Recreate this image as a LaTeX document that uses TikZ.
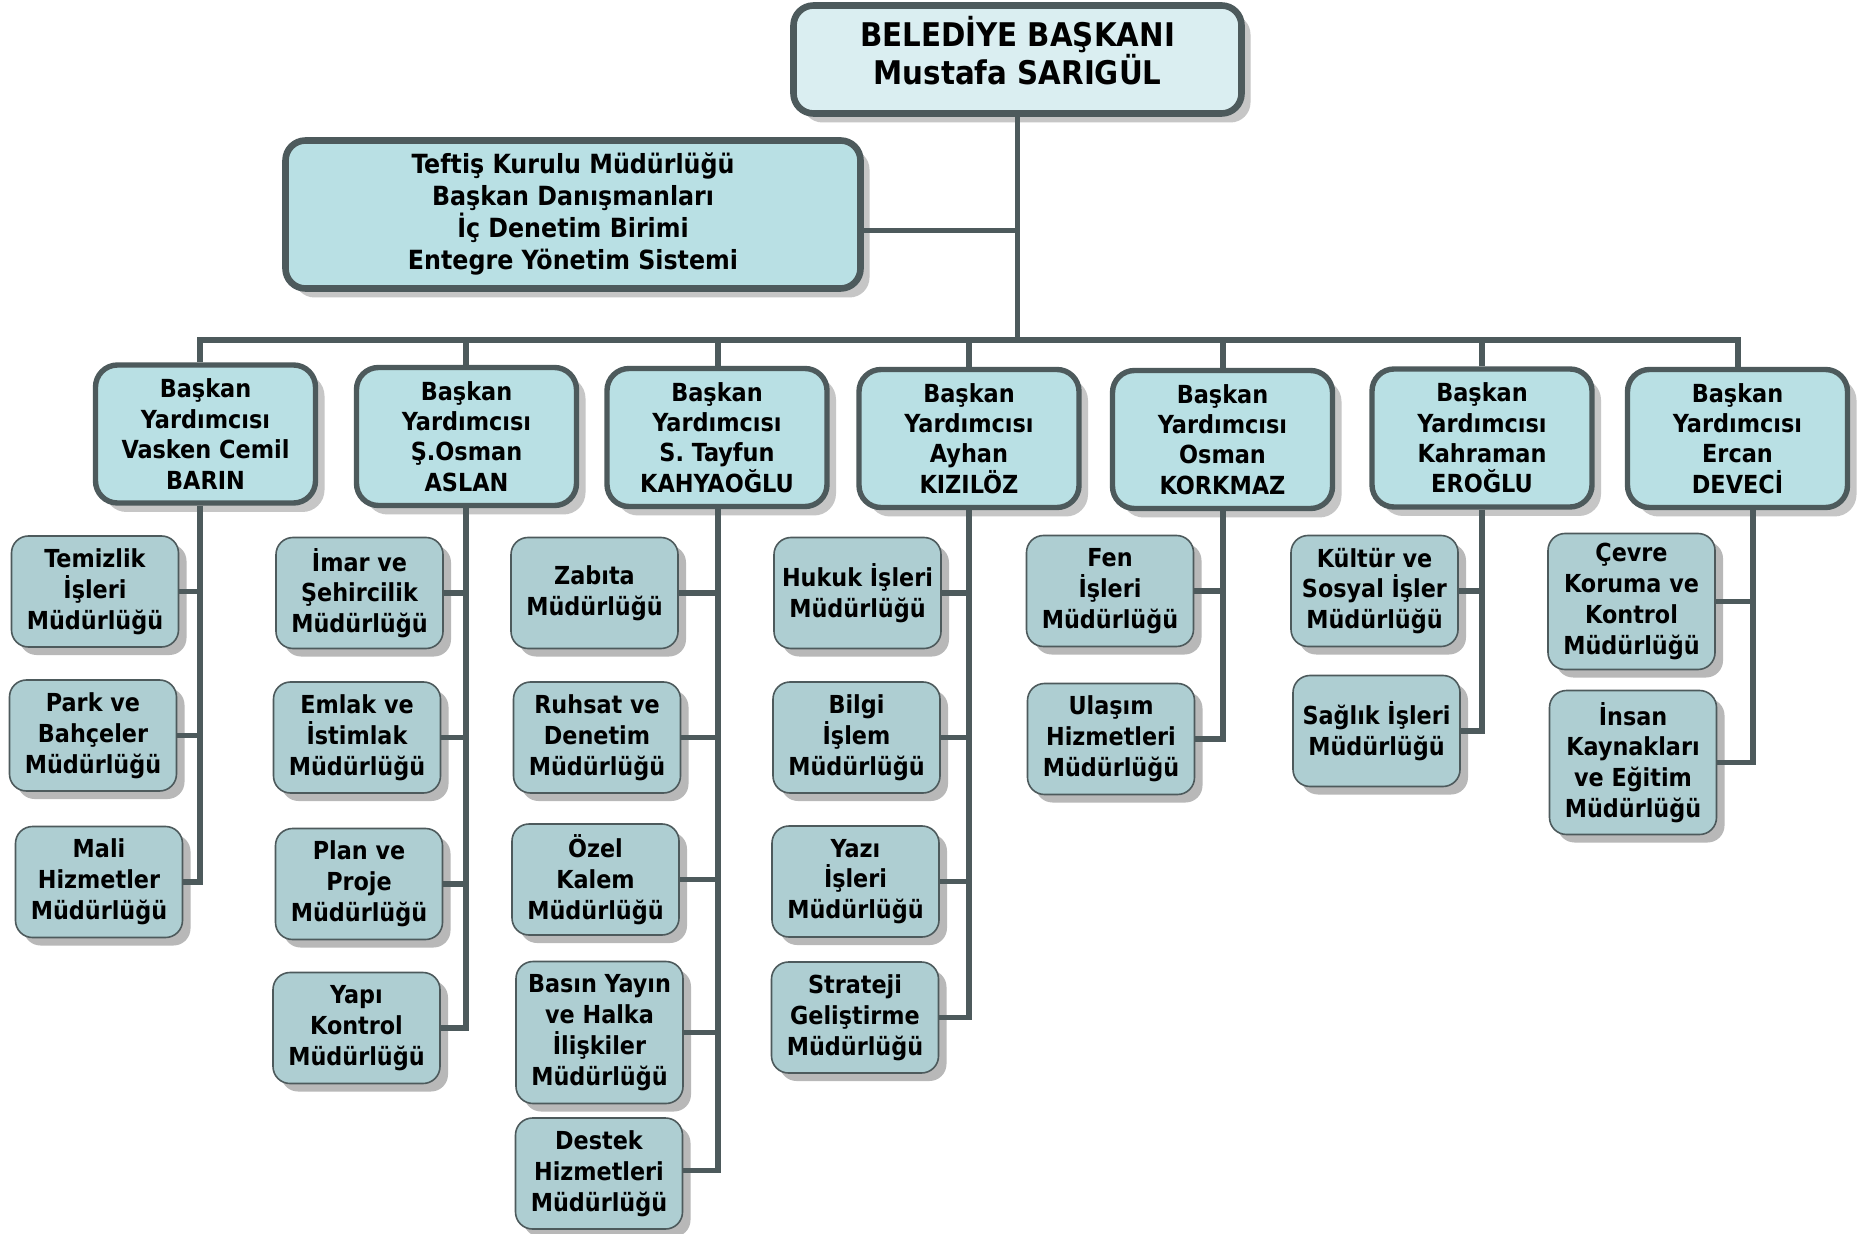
\documentclass[tikz,border=0pt]{standalone}
\usepackage{fontspec}
\setmainfont{DejaVu Sans Condensed}
\usetikzlibrary{shadows}
\definecolor{bord}{HTML}{4D5A5C}
\definecolor{topfill}{HTML}{DAEEF1}
\definecolor{vpfill}{HTML}{B9E0E4}
\definecolor{leaffill}{HTML}{AECED2}
\definecolor{shadowA}{HTML}{C6C6C6}
\definecolor{shadowB}{HTML}{B8B8B8}
\tikzset{
  conn/.style={draw=bord, line width=2.7pt},
  headbox/.style={draw=bord, line width=3.3pt, fill=topfill, rounded corners=10pt,
    align=center, inner sep=0pt, font=\bfseries\fontsize{16.3}{19}\selectfont,
    drop shadow={shadow xshift=4.5pt, shadow yshift=-4.5pt, fill=shadowA, opacity=1}},
  staffbox/.style={draw=bord, line width=3.3pt, fill=vpfill, rounded corners=10pt,
    align=center, inner sep=0pt, font=\bfseries\fontsize{13.2}{16}\selectfont,
    drop shadow={shadow xshift=4.5pt, shadow yshift=-4.5pt, fill=shadowA, opacity=1}},
  vpbox/.style={draw=bord, line width=2.7pt, fill=vpfill, rounded corners=11pt,
    align=center, inner sep=0pt, minimum width=110pt, minimum height=69pt,
    font=\bfseries\fontsize{12.45}{15.2}\selectfont,
    drop shadow={shadow xshift=4.5pt, shadow yshift=-4.5pt, fill=shadowA, opacity=1}},
  leafbox/.style={draw=bord, line width=0.8pt, fill=leaffill, rounded corners=8.5pt,
    align=center, inner sep=0pt, minimum width=83.5pt, minimum height=55.5pt,
    font=\bfseries\fontsize{12.4}{15.4}\selectfont,
    drop shadow={shadow xshift=4pt, shadow yshift=-4pt, fill=shadowB, opacity=1}}
}
\begin{document}
\begin{tikzpicture}[x=0.5pt, y=-0.5pt]
\useasboundingbox (0,0) rectangle (1861,1234);
\fill[white] (0,0) rectangle (1861,1234);

% stems
\coordinate (s1) at (200,340);
\coordinate (s2) at (466,340);
\coordinate (s3) at (718,340);
\coordinate (s4) at (969,340);
\coordinate (s5) at (1223,340);
\coordinate (s6) at (1482,340);
\coordinate (s7) at (1738,340);
\coordinate (s7b) at (1753,340);

% top boxes
\node[headbox, minimum width=224pt, minimum height=54pt, text depth=9pt] (top) at (1017.5,59.5) {BELEDİYE BAŞKANI\\Mustafa SARIGÜL};
\node[staffbox, minimum width=287.5pt, minimum height=74pt] (teftis) at (573,214.5) {Teftiş Kurulu Müdürlüğü\\Başkan Danışmanları\\İç Denetim Birimi\\Entegre Yönetim Sistemi};

% vice presidents
\node[vpbox] (vp1) at (205.5,434) {Başkan\\Yardımcısı\\Vasken Cemil\\BARIN};
\node[vpbox] (vp2) at (466.5,436.5) {Başkan\\Yardımcısı\\Ş.Osman\\ASLAN};
\node[vpbox] (vp3) at (717,437.5) {Başkan\\Yardımcısı\\S. Tayfun\\KAHYAOĞLU};
\node[vpbox] (vp4) at (969,438.5) {Başkan\\Yardımcısı\\Ayhan\\KIZILÖZ};
\node[vpbox] (vp5) at (1222.5,439.5) {Başkan\\Yardımcısı\\Osman\\KORKMAZ};
\node[vpbox] (vp6) at (1482,438) {Başkan\\Yardımcısı\\Kahraman\\EROĞLU};
\node[vpbox] (vp7) at (1737.5,438.5) {Başkan\\Yardımcısı\\Ercan\\DEVECİ};

% column 1
\node[leafbox] (tem) at (95,591.5) {Temizlik\\İşleri\\Müdürlüğü};
\node[leafbox] (park) at (93,735.5) {Park ve\\Bahçeler\\Müdürlüğü};
\node[leafbox] (mali) at (99,882) {Mali\\Hizmetler\\Müdürlüğü};
% column 2
\node[leafbox] (imar) at (359.5,593) {İmar ve\\Şehircilik\\Müdürlüğü};
\node[leafbox] (emlak) at (357,737.5) {Emlak ve\\İstimlak\\Müdürlüğü};
\node[leafbox] (plan) at (359,884) {Plan ve\\Proje\\Müdürlüğü};
\node[leafbox] (yapi) at (356.5,1028) {Yapı\\Kontrol\\Müdürlüğü};
% column 3
\node[leafbox] (zabita) at (594.5,593) {Zabıta\\Müdürlüğü};
\node[leafbox] (ruhsat) at (597,737.5) {Ruhsat ve\\Denetim\\Müdürlüğü};
\node[leafbox] (ozel) at (595.5,879.5) {Özel\\Kalem\\Müdürlüğü};
\node[leafbox, minimum height=71pt] (basin) at (599.5,1032.5) {Basın Yayın\\ve Halka\\İlişkiler\\Müdürlüğü};
\node[leafbox] (destek) at (599,1173.5) {Destek\\Hizmetleri\\Müdürlüğü};
% column 4
\node[leafbox] (hukuk) at (857.5,593) {Hukuk İşleri\\Müdürlüğü};
\node[leafbox] (bilgi) at (856.5,737.5) {Bilgi\\İşlem\\Müdürlüğü};
\node[leafbox] (yazi) at (855.5,881.5) {Yazı\\İşleri\\Müdürlüğü};
\node[leafbox] (strateji) at (855,1017.5) {Strateji\\Geliştirme\\Müdürlüğü};
% column 5
\node[leafbox] (fen) at (1110,591) {Fen\\İşleri\\Müdürlüğü};
\node[leafbox] (ulasim) at (1111,739) {Ulaşım\\Hizmetleri\\Müdürlüğü};
% column 6
\node[leafbox] (kultur) at (1374.5,591) {Kültür ve\\Sosyal İşler\\Müdürlüğü};
\node[leafbox] (saglik) at (1376.5,731) {Sağlık İşleri\\Müdürlüğü};
% column 7
\node[leafbox, minimum height=68pt] (cevre) at (1631.5,601.5) {Çevre\\Koruma ve\\Kontrol\\Müdürlüğü};
\node[leafbox, minimum height=72pt] (insan) at (1633,762.5) {İnsan\\Kaynakları\\ve Eğitim\\Müdürlüğü};

% main connectors
\draw[conn] (top.south) -- (top.south |- s1);
\draw[conn] ([yshift=-8pt]teftis.east) -- ([yshift=-8pt]teftis.east -| top.south);
\draw[conn] (s1 |- vp1.north) -- (s1) -- (s7) -- (s7 |- vp7.north);
\draw[conn] (s2) -- (s2 |- vp2.north);
\draw[conn] (s3) -- (s3 |- vp3.north);
\draw[conn] (s4) -- (s4 |- vp4.north);
\draw[conn] (s5) -- (s5 |- vp5.north);
\draw[conn] (s6) -- (s6 |- vp6.north);

% column 1
\draw[conn] (s1 |- vp1.south) |- (mali.east);
\draw[conn] (tem.east) -- (tem.east -| s1);
\draw[conn] (park.east) -- (park.east -| s1);
% column 2
\draw[conn] (s2 |- vp2.south) |- (yapi.east);
\draw[conn] (imar.east) -- (imar.east -| s2);
\draw[conn] (emlak.east) -- (emlak.east -| s2);
\draw[conn] (plan.east) -- (plan.east -| s2);
% column 3
\draw[conn] (s3 |- vp3.south) |- ([yshift=1.5pt]destek.east);
\draw[conn] (zabita.east) -- (zabita.east -| s3);
\draw[conn] (ruhsat.east) -- (ruhsat.east -| s3);
\draw[conn] (ozel.east) -- (ozel.east -| s3);
\draw[conn] (basin.east) -- (basin.east -| s3);
% column 4
\draw[conn] (s4 |- vp4.south) |- (strateji.east);
\draw[conn] (hukuk.east) -- (hukuk.east -| s4);
\draw[conn] (bilgi.east) -- (bilgi.east -| s4);
\draw[conn] (yazi.east) -- (yazi.east -| s4);
% column 5
\draw[conn] (s5 |- vp5.south) |- (ulasim.east);
\draw[conn] (fen.east) -- (fen.east -| s5);
% column 6
\draw[conn] (s6 |- vp6.south) |- (saglik.east);
\draw[conn] (kultur.east) -- (kultur.east -| s6);
% column 7
\draw[conn] (s7b |- vp7.south) |- (insan.east);
\draw[conn] (cevre.east) -- (cevre.east -| s7b);
\end{tikzpicture}
\end{document}
